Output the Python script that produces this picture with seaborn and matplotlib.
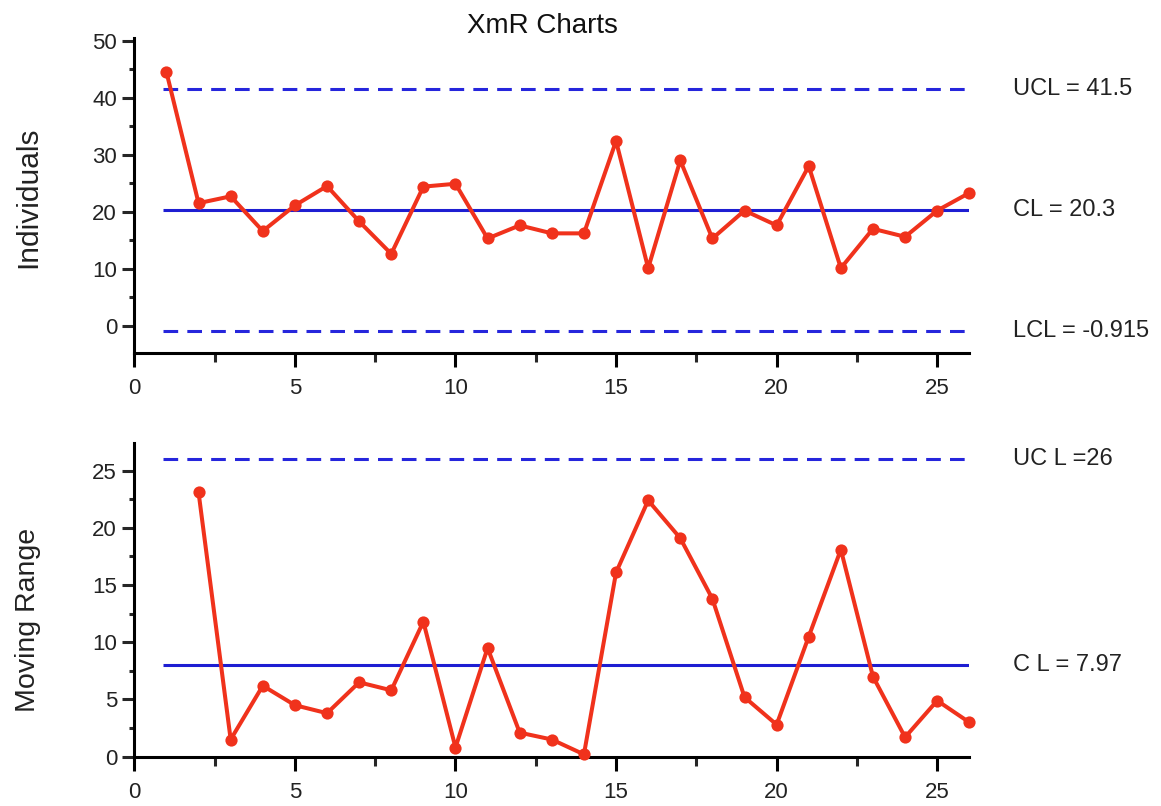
import matplotlib
matplotlib.use("Agg")
import matplotlib.pyplot as plt
from matplotlib import font_manager
from matplotlib.ticker import MultipleLocator
import seaborn as sns
import pandas as pd

# ---- data -------------------------------------------------------------
obs = list(range(1, 27))
individuals = [44.5, 21.5, 22.7, 16.6, 21.1, 24.5, 18.3, 12.6, 24.4, 24.9,
               15.3, 17.6, 16.2, 16.2, 32.4, 10.1, 29.0, 15.3, 20.2, 17.6,
               28.0, 10.1, 17.0, 15.6, 20.2, 23.3]
mr_obs = list(range(2, 27))
moving_range = [23.1, 1.5, 6.2, 4.5, 3.8, 6.5, 5.8, 11.8, 0.8, 9.5,
                2.1, 1.5, 0.2, 16.1, 22.4, 19.1, 13.8, 5.2, 2.8, 10.5,
                18.1, 7.0, 1.7, 4.9, 3.0]

ind_limits = {"UCL": 41.5, "CL": 20.3, "LCL": -0.915}
ind_labels = {"UCL": "UCL = 41.5", "CL": "CL = 20.3", "LCL": "LCL = -0.915"}
mr_limits = {"UCL": 26, "CL": 7.97}
mr_labels = {"UCL": "UC L =26", "CL": "C L = 7.97"}

title = "XmR Charts"
x_ticks = [0, 5, 10, 15, 20, 25]

# ---- style ------------------------------------------------------------
sns.set_style("ticks")


def pick(*names):
    for n in names:
        try:
            font_manager.findfont(font_manager.FontProperties(family=n),
                                  fallback_to_default=False)
            return n
        except Exception:
            continue
    return "DejaVu Sans"


NARROW = pick("Liberation Sans Narrow", "Liberation Sans", "DejaVu Sans")
REGULAR = pick("Liberation Sans", "DejaVu Sans")
IS_NARROW = NARROW == "Liberation Sans Narrow"
plt.rcParams["font.family"] = [NARROW, "DejaVu Sans"]

TICK_FS = 17 if IS_NARROW else 16
LIMIT_FS = 19 if IS_NARROW else 17
YLAB_FS = (25, 24.5) if IS_NARROW else (21.5, 20.5)

RED = "#f0321c"
BLUE_DASH = "#2626dc"
BLUE_SOLID = "#1e1ed2"
TXT = "#222222"
LW_AXIS = 2.2

df_ind = pd.DataFrame({"obs": obs, "value": individuals})
df_mr = pd.DataFrame({"obs": mr_obs, "value": moving_range})

fig = plt.figure(figsize=(11.61, 8.06), dpi=100)
ax_top = fig.add_axes([0.1157, 0.5624, 0.7192, 0.3904])
ax_bot = fig.add_axes([0.1157, 0.0612, 0.7192, 0.3896])


def style_axes(ax, ymin, ymax, ymajor, yminor):
    ax.set_xlim(0, 26)
    ax.set_ylim(ymin, ymax)
    for s in ("top", "right"):
        ax.spines[s].set_visible(False)
    for s in ("left", "bottom"):
        ax.spines[s].set_linewidth(LW_AXIS)
        ax.spines[s].set_color("black")
    ax.set_xticks(x_ticks)
    ax.xaxis.set_minor_locator(MultipleLocator(2.5))
    ax.yaxis.set_major_locator(MultipleLocator(ymajor))
    ax.yaxis.set_minor_locator(MultipleLocator(yminor))
    ax.tick_params(axis="x", which="major", direction="out", length=10,
                   width=LW_AXIS, pad=8, labelsize=TICK_FS, colors="black",
                   labelcolor=TXT)
    ax.tick_params(axis="x", which="minor", direction="out", length=6.5,
                   width=LW_AXIS)
    ax.tick_params(axis="y", which="major", direction="out", length=8.4,
                   width=LW_AXIS, pad=4, labelsize=TICK_FS, labelcolor=TXT)
    ax.tick_params(axis="y", which="minor", direction="out", length=3.6,
                   width=LW_AXIS)
    ax.set_xlabel("")
    ax.set_ylabel("")
    ax.set_facecolor("white")


def draw_series(ax, data):
    sns.lineplot(data=data, x="obs", y="value", ax=ax, color=RED,
                 linewidth=2.9, marker="o", markersize=8.8,
                 markeredgecolor=RED, markeredgewidth=0, clip_on=False,
                 zorder=4)


def draw_limit(ax, value, label, dashed):
    ls = (0, (4.8, 3.0)) if dashed else "-"
    col = BLUE_DASH if dashed else BLUE_SOLID
    ax.hlines(value, 0.9, 26, colors=col, linewidth=2.2, linestyles=ls,
              zorder=3)
    ax.text(27.35, value, label, fontsize=LIMIT_FS, va="center", ha="left",
            color=TXT, clip_on=False)


# Individuals chart
for key in ("UCL", "CL", "LCL"):
    draw_limit(ax_top, ind_limits[key], ind_labels[key], key != "CL")
draw_series(ax_top, df_ind)
style_axes(ax_top, -4.74, 50.47, 10, 5)

# Moving range chart
for key in ("UCL", "CL"):
    draw_limit(ax_bot, mr_limits[key], mr_labels[key], key != "CL")
draw_series(ax_bot, df_mr)
style_axes(ax_bot, 0, 27.45, 5, 2.5)

fig.text(542 / 1161, 1 - 26 / 806, title, ha="center", va="center",
         fontsize=20, family=[REGULAR, "DejaVu Sans"], color="#111111")
fig.text(28 / 1161, 1 - 197 / 806, "Individuals", rotation=90,
         ha="center", va="center", fontsize=YLAB_FS[0], color=TXT)
fig.text(28 / 1161, 1 - 619.5 / 806, "Moving Range", rotation=90,
         ha="center", va="center", fontsize=YLAB_FS[1], color=TXT)

fig.savefig("out.png", dpi=100, facecolor="white")
